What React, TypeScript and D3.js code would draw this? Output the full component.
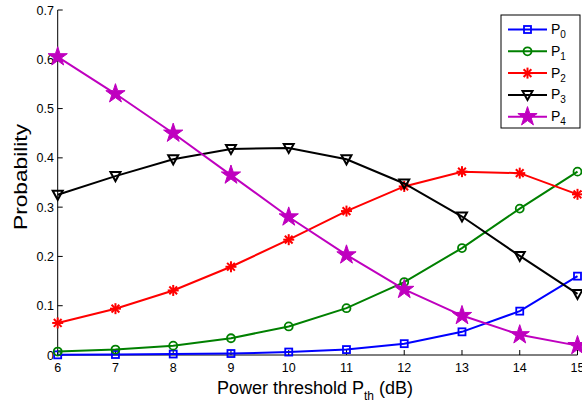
import React from "react";
import * as d3 from "d3";

const xs = [6, 7, 8, 9, 10, 11, 12, 13, 14, 15];
const p0 = [0.0003, 0.001, 0.002, 0.003, 0.006, 0.011, 0.023, 0.047, 0.089, 0.16];
const p1 = [0.007, 0.011, 0.019, 0.034, 0.058, 0.095, 0.148, 0.217, 0.297, 0.372];
const p2 = [0.065, 0.094, 0.131, 0.179, 0.234, 0.292, 0.342, 0.372, 0.369, 0.326];
const p3 = [0.325, 0.363, 0.397, 0.418, 0.42, 0.397, 0.348, 0.281, 0.201, 0.124];
const p4 = [0.605, 0.53, 0.45, 0.365, 0.28, 0.203, 0.133, 0.08, 0.041, 0.019];
const yTicks = [0, 0.1, 0.2, 0.3, 0.4, 0.5, 0.6, 0.7];
const yTickLabels = ["0", "0.1", "0.2", "0.3", "0.4", "0.5", "0.6", "0.7"];
const seriesNames = ["0", "1", "2", "3", "4"];
const seriesColors = ["#0000ff", "#008000", "#ff0000", "#000000", "#bf00bf"];
const seriesMarkers = ["square", "circle", "asterisk", "triangle", "star"];
const seriesData = [p0, p1, p2, p3, p4];

const W = 582, H = 407;
const x = d3.scaleLinear().domain([6, 15]).range([57.7, 577.5]);
const y = d3.scaleLinear().domain([0, 0.7]).range([355, 10]);
const FONT = "'Liberation Sans', Arial, Helvetica, sans-serif";

function Marker({ kind, cx, cy, color }: { kind: string; cx: number; cy: number; color: string }) {
  if (kind === "square")
    return <rect x={cx - 3.5} y={cy - 3.5} width={7} height={7} fill="none" stroke={color} strokeWidth={1.8} />;
  if (kind === "circle")
    return <circle cx={cx} cy={cy} r={4} fill="none" stroke={color} strokeWidth={1.8} />;
  if (kind === "asterisk") {
    const r = 5.5;
    const lines = [0, 45, 90, 135].map((a) => {
      const t = (a * Math.PI) / 180;
      return (
        <line key={a} x1={cx - r * Math.cos(t)} y1={cy - r * Math.sin(t)} x2={cx + r * Math.cos(t)} y2={cy + r * Math.sin(t)} stroke={color} strokeWidth={2} />
      );
    });
    return <g>{lines}</g>;
  }
  if (kind === "triangle") {
    const s = 5;
    const pts = `${cx - s},${cy - s * 0.8} ${cx + s},${cy - s * 0.8} ${cx},${cy + s}`;
    return <polygon points={pts} fill="none" stroke={color} strokeWidth={2} strokeLinejoin="miter" />;
  }
  const sym = d3.symbol().type(d3.symbolStar).size(115)();
  return <path d={sym || ""} transform={`translate(${cx},${cy})`} fill={color} stroke={color} strokeWidth={1} />;
}

export default function App() {
  const line = d3
    .line<number>()
    .x((_, i) => x(xs[i]))
    .y((d) => y(d));
  return (
    <svg width={W} height={H} style={{ position: "absolute", left: 0, top: 0, background: "#fff" }} fontFamily={FONT}>
      <rect width={W} height={H} fill="#fff" />
      <line x1={x(6)} y1={y(0)} x2={x(15)} y2={y(0)} stroke="#000" strokeWidth={1} />
      <line x1={x(6)} y1={y(0)} x2={x(6)} y2={y(0.7)} stroke="#000" strokeWidth={1} />
      {xs.map((v) => (
        <g key={"xt" + v}>
          <line x1={x(v)} x2={x(v)} y1={y(0)} y2={y(0) - 5} stroke="#000" />
          <text x={x(v)} y={372} fontSize={12.5} textAnchor="middle" fill="#000">
            {v}
          </text>
        </g>
      ))}
      {yTicks.map((v, i) => (
        <g key={"yt" + v}>
          <line x1={x(6)} x2={x(6) + 5} y1={y(v)} y2={y(v)} stroke="#000" />
          <text x={54} y={y(v) + 4.5} fontSize={12.5} textAnchor="end" fill="#000">
            {yTickLabels[i]}
          </text>
        </g>
      ))}
      {seriesData.map((data, si) => (
        <g key={"s" + si}>
          <path d={line(data) || ""} fill="none" stroke={seriesColors[si]} strokeWidth={2} />
          {data.map((d, i) => (
            <Marker key={i} kind={seriesMarkers[si]} cx={x(xs[i])} cy={y(d)} color={seriesColors[si]} />
          ))}
        </g>
      ))}
      <text x={315} y={394} fontSize={18} textAnchor="middle" fill="#000">
        Power threshold P<tspan fontSize={12} dy={6}>th</tspan>
        <tspan dy={-6}> (dB)</tspan>
      </text>
      <text transform="translate(27,177) rotate(-90)" fontSize={19} textAnchor="middle" fill="#000" textLength={106} lengthAdjust="spacingAndGlyphs">
        Probability
      </text>
      <rect x={501} y={15} width={79} height={113} fill="#fff" stroke="#000" strokeWidth={1} />
      {seriesNames.map((n, i) => {
        const ly = 29.5 + i * 21.8;
        return (
          <g key={"lg" + i}>
            <line x1={508} x2={547} y1={ly} y2={ly} stroke={seriesColors[i]} strokeWidth={2} />
            <Marker kind={seriesMarkers[i]} cx={527.5} cy={ly} color={seriesColors[i]} />
            <text x={551} y={ly + 4.5} fontSize={14} fill="#000">
              P<tspan fontSize={10} dy={4}>{n}</tspan>
            </text>
          </g>
        );
      })}
    </svg>
  );
}
